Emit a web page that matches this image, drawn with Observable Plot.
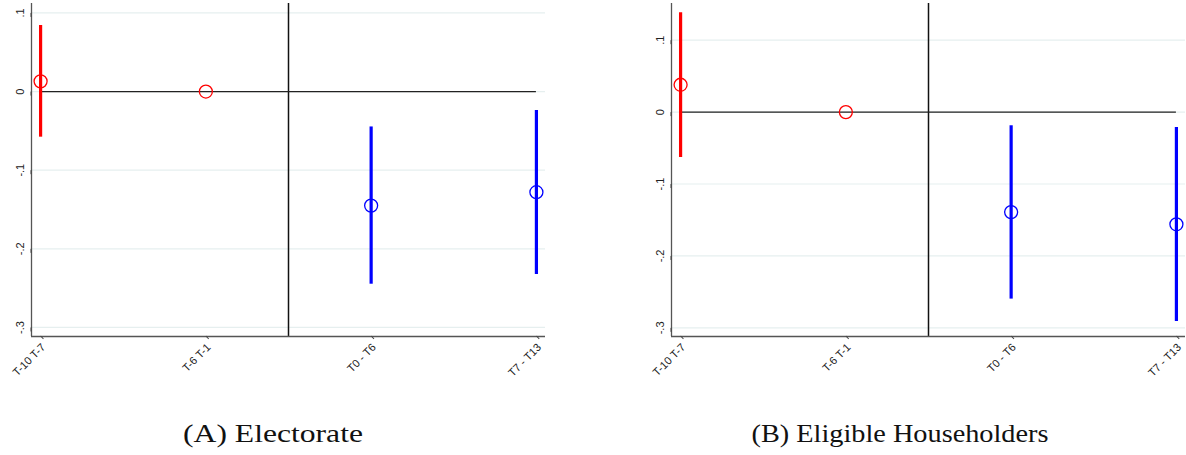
<!DOCTYPE html>
<html>
<head>
<meta charset="utf-8">
<script src="https://cdn.jsdelivr.net/npm/d3@7"></script>
<script src="https://cdn.jsdelivr.net/npm/@observablehq/plot@0.6"></script>
<style>
  html, body { margin: 0; padding: 0; background: #fff; }
  #wrap { position: relative; width: 1186px; height: 455px; overflow: hidden; }
  .panel { position: absolute; top: 0; }
  .cap { position: absolute; top: 419px; font-family: "Liberation Serif", "DejaVu Serif", serif; font-size: 26px; line-height: 30px; color: #111; white-space: nowrap; }
</style>
</head>
<body>
<div id="wrap"></div>
<script>
const periods = ["T-10 T-7", "T-6 T-1", "T0 - T6", "T7 - T13"];
const electorateCoef = [0.013, 0, -0.145, -0.128];
const electorateLo   = [-0.058, null, -0.245, -0.2325];
const electorateHi   = [0.084, null, -0.045, -0.024];
const householdersCoef = [0.038, 0, -0.139, -0.156];
const householdersLo   = [-0.063, null, -0.260, -0.291];
const householdersHi   = [0.138, null, -0.019, -0.0215];
const yTicks = [-0.3, -0.2, -0.1, 0, 0.1];
const captions = ["(A) Electorate", "(B) Eligible Householders"];

const fmtY = d => d === 0 ? "0" : (d < 0 ? "-" : "") + "." + Math.round(Math.abs(d) * 10);

function panel(coef, lo, hi, yDomain, width, marginLeft, marginRight) {
  const data = periods.map((p, i) => ({i, coef: coef[i], lo: lo[i], hi: hi[i]}));
  const ci = data.filter(d => d.lo != null);
  const xDomain = [-0.055, 3.055];
  const col = d => d.i < 2 ? "#ff0000" : "#0000ff";
  return Plot.plot({
    width, height: 400,
    marginLeft, marginRight, marginTop: 3, marginBottom: 64,
    style: {fontFamily: "'Liberation Sans', Arial, sans-serif", fontSize: "11px", color: "#222", background: "#fff", overflow: "visible"},
    x: {type: "linear", domain: xDomain},
    y: {type: "linear", domain: yDomain},
    marks: [
      Plot.gridY(yTicks, {stroke: "#e6efef", strokeOpacity: 1, strokeWidth: 1.2}),
      Plot.ruleX([1.5], {stroke: "#111", strokeWidth: 1.5}),
      Plot.ruleY([0], {x1: 0, x2: 3, stroke: "#222", strokeWidth: 1.3}),
      Plot.ruleX(ci, {x: "i", y1: "lo", y2: "hi", stroke: col, strokeWidth: 3.2}),
      Plot.dot(data, {x: "i", y: "coef", r: 6.5, stroke: col, strokeWidth: 1.3, fill: "none"}),
      Plot.ruleX([xDomain[0]], {stroke: "#555", strokeWidth: 1.3}),
      Plot.ruleY([yDomain[0]], {stroke: "#555", strokeWidth: 1.3}),
      Plot.axisY(yTicks, {tickFormat: fmtY, tickSize: 4, tickPadding: 7, rotate: -90, textAnchor: "middle", stroke: "#444", label: null}),
      Plot.axisX([0, 1, 2, 3], {tickFormat: i => periods[i], tickSize: 4, tickPadding: 2, rotate: -45, textAnchor: "end", stroke: "#444", label: null})
    ]
  });
}

const wrap = document.getElementById("wrap");
const a = panel(electorateCoef, electorateLo, electorateHi, [-0.3115, 0.112], 560, 31, 15);
a.classList.add("panel"); a.style.left = "0px";
wrap.appendChild(a);
const b = panel(householdersCoef, householdersLo, householdersHi, [-0.312, 0.151], 586, 71, 1);
b.classList.add("panel"); b.style.left = "600px";
wrap.appendChild(b);

// caption placement: [text, centre x, target width]
[[captions[0], 273, 180], [captions[1], 900, 297]].forEach(([t, x, w]) => {
  const d = document.createElement("div");
  d.className = "cap"; d.textContent = t; d.style.left = x + "px";
  wrap.appendChild(d);
  const nat = d.getBoundingClientRect().width;
  d.style.transform = `translateX(-50%) scaleX(${(w / nat).toFixed(3)})`;
});
</script>
</body>
</html>
